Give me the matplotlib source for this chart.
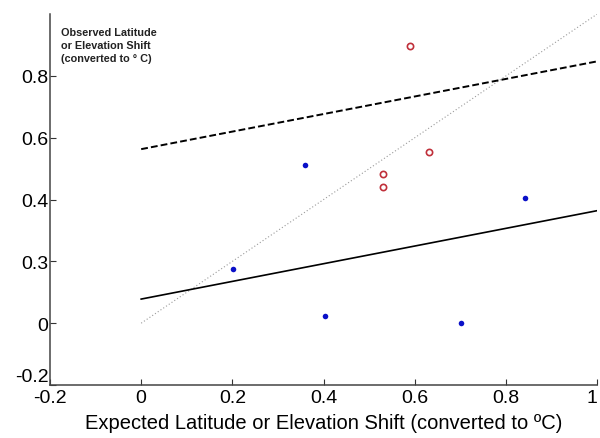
import matplotlib.pyplot as plt
import numpy as np

plt.rcParams['font.family'] = ['Liberation Sans', 'DejaVu Sans']

# expected vs observed shifts (converted to degrees C)
blue_x = [0.201, 0.359, 0.403, 0.701, 0.842]
blue_y = [0.175, 0.511, 0.023, 0.000, 0.404]
red_x = [0.589, 0.631, 0.530, 0.530]
red_y = [0.896, 0.553, 0.482, 0.440]

# fitted lines, evaluated at x = 0 and x = 1
fit_x = [0, 1]
dashed_y = [0.563, 0.847]
solid_y = [0.078, 0.364]
one_to_one_y = [0, 1]

xticks = [-0.2, 0, 0.2, 0.4, 0.6, 0.8, 1]
xtick_labels = ['-0.2', '0', '0.2', '0.4', '0.6', '0.8', '1']
yticks = [-0.2, 0, 0.2, 0.4, 0.6, 0.8]
ytick_labels = ['-0.2', '0', '0.3', '0.4', '0.6', '0.8']

fig = plt.figure(figsize=(6, 4.39), dpi=100)
ax = fig.add_axes([0.0833, 0.1207, 0.912, 0.845])

ax.plot(fit_x, one_to_one_y, color='#9a9a9a', lw=0.8, linestyle=(0, (1, 2)))
ax.plot(fit_x, dashed_y, color='black', lw=1.4, linestyle=(0, (3.5, 1.6)))
ax.plot(fit_x, solid_y, color='black', lw=1.2)
ax.plot(blue_x, blue_y, 'o', color='#0a10c8', markersize=4, markeredgewidth=0)
ax.plot(red_x, red_y, 'o', markerfacecolor='none', markeredgecolor='#c0303a',
        markersize=4.5, markeredgewidth=1.2)

ax.set_xlim(-0.2, 1)
ax.set_ylim(-0.2, 1.0)
ax.set_xticks(xticks)
ax.set_xticklabels(xtick_labels)
ax.set_yticks(yticks)
ax.set_yticklabels(ytick_labels)
ax.tick_params(direction='in', length=4, width=0.8, colors='#333333',
               labelsize=14, labelcolor='black')
ax.tick_params(axis='x', pad=3)
ax.tick_params(axis='y', pad=1)
# bottom y label sits just above its tick, last x label kept inside the figure
ax.get_yticklabels()[0].set_verticalalignment('bottom')
ax.get_yticklabels()[0].set_y(-0.205)
ax.get_xticklabels()[-1].set_horizontalalignment('right')

for s in ['top', 'right']:
    ax.spines[s].set_visible(False)
for s in ['left', 'bottom']:
    ax.spines[s].set_color('#444444')
    ax.spines[s].set_linewidth(1.1)

ax.set_xlabel('Expected Latitude or Elevation Shift (converted to ºC)', fontsize=14.5, labelpad=5)
ax.text(0.02, 0.965, 'Observed Latitude\nor Elevation Shift\n(converted to ° C)',
        transform=ax.transAxes, fontsize=7.8, fontweight='bold', color='#222222',
        va='top', ha='left', linespacing=1.35)

fig.savefig('out.png', dpi=100)
